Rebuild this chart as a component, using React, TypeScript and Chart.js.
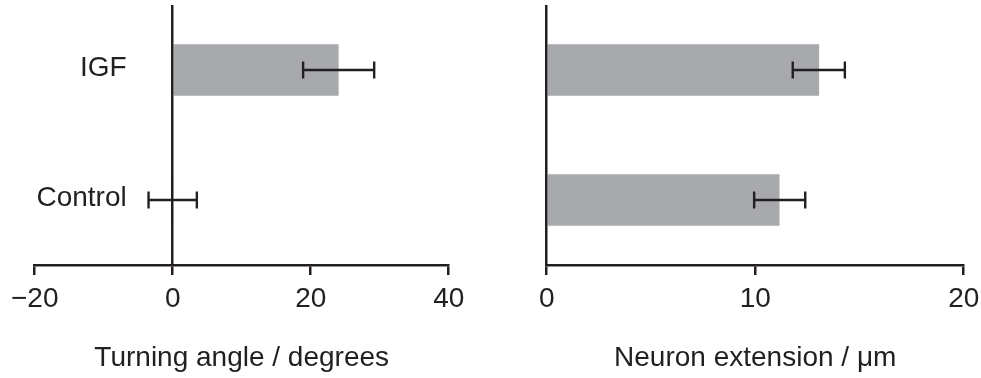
import React, { useEffect, useRef } from 'react';
import { Chart, registerables } from 'chart.js';

Chart.register(...registerables);

const categories = ['IGF', 'Control'];

const turningMean = [24.0, 0];
const turningLow = [18.9, -3.5];
const turningHigh = [29.2, 3.5];
const turningTicks = [-20, 0, 20, 40];

const extensionMean = [13.05, 11.15];
const extensionLow = [11.8, 9.95];
const extensionHigh = [14.3, 12.4];
const extensionTicks = [0, 10, 20];

const DARK = '#231f20';
const BAR = '#a7a9ac';
const FONT = '"Liberation Sans", Arial, Helvetica, sans-serif';

type PanelProps = {
  width: number;
  height: number;
  left: number;
  means: number[];
  lows: number[];
  highs: number[];
  ticks: number[];
  title: string;
  showLabels: boolean;
  pad: { left: number; right: number; top: number };
};

function Panel(props: PanelProps) {
  const ref = useRef<HTMLCanvasElement | null>(null);
  useEffect(() => {
    const canvas = ref.current;
    if (!canvas) return;
    const { means, lows, highs, ticks, title, showLabels, pad } = props;

    const errorBars = {
      id: 'errorBars',
      afterDatasetsDraw(chart: any) {
        const ctx = chart.ctx;
        const xs = chart.scales.x;
        const ys = chart.scales.y;
        ctx.save();
        ctx.strokeStyle = DARK;
        ctx.lineWidth = 2.4;
        lows.forEach((lo, i) => {
          const y = ys.getPixelForValue(i);
          const x1 = xs.getPixelForValue(lo);
          const x2 = xs.getPixelForValue(highs[i]);
          ctx.beginPath();
          ctx.moveTo(x1, y);
          ctx.lineTo(x2, y);
          ctx.moveTo(x1, y - 8.5);
          ctx.lineTo(x1, y + 8.5);
          ctx.moveTo(x2, y - 8.5);
          ctx.lineTo(x2, y + 8.5);
          ctx.stroke();
        });
        ctx.restore();
      },
    };

    const catLabels = {
      id: 'catLabels',
      afterDraw(chart: any) {
        if (!showLabels) return;
        const ctx = chart.ctx;
        const xs = chart.scales.x;
        const ys = chart.scales.y;
        ctx.save();
        ctx.fillStyle = DARK;
        ctx.font = `28px ${FONT}`;
        ctx.textAlign = 'right';
        ctx.textBaseline = 'middle';
        const x0 = xs.getPixelForValue(0);
        categories.forEach((c, i) => {
          const y = ys.getPixelForValue(i);
          ctx.fillText(c, x0 - 46, y - 2);
        });
        ctx.restore();
      },
    };

    const chart = new Chart(canvas, {
      type: 'bar',
      data: {
        labels: categories,
        datasets: [
          {
            data: means,
            backgroundColor: BAR,
            borderWidth: 0,
            barThickness: 51,
          },
        ],
      },
      options: {
        indexAxis: 'y',
        animation: false,
        responsive: false,
        events: [],
        layout: { padding: { left: pad.left, right: pad.right, top: pad.top, bottom: 0 } },
        plugins: { legend: { display: false }, tooltip: { enabled: false }, title: { display: false } },
        scales: {
          y: {
            type: 'category',
            display: false,
            offset: true,
          },
          x: {
            type: 'linear',
            position: 'bottom',
            min: ticks[0],
            max: ticks[ticks.length - 1],
            z: 1,
            afterBuildTicks: (scale: any) => {
              scale.ticks = ticks.map((v) => ({ value: v }));
            },
            border: { display: true, color: DARK, width: 2.5, z: 1 },
            grid: {
              display: true,
              z: 1,
              drawTicks: true,
              tickLength: 10,
              lineWidth: 2.5,
              tickWidth: 2.5,
              tickColor: DARK,
              color: (ctx: any) => (ctx.tick && ctx.tick.value === 0 ? DARK : 'rgba(0,0,0,0)'),
            },
            ticks: {
              padding: 7,
              color: DARK,
              font: { family: FONT, size: 28 },
              maxRotation: 0,
              autoSkip: false,
              callback: (v: any) => {
                const n = Number(v);
                return n < 0 ? '\u2212' + Math.abs(n) : String(n);
              },
            },
            title: {
              display: true,
              text: title,
              color: DARK,
              font: { family: FONT, size: 28 },
              padding: { top: 18.6, bottom: 3.2 },
            },
          },
        },
      },
      plugins: [errorBars, catLabels],
    });
    return () => chart.destroy();
  }, []);
  return (
    <canvas
      ref={ref}
      width={props.width}
      height={props.height}
      style={{ position: 'absolute', left: props.left, top: 0, width: props.width, height: props.height }}
    />
  );
}

export default function App() {
  return (
    <div
      style={{
        position: 'fixed',
        left: 0,
        top: 0,
        width: 981,
        height: 378,
        overflow: 'hidden',
        background: '#ffffff',
      }}
    >
      <Panel
        width={490}
        height={378}
        left={0}
        means={turningMean}
        lows={turningLow}
        highs={turningHigh}
        ticks={turningTicks}
        title="Turning angle / degrees"
        showLabels={true}
        pad={{ left: 34.7, right: 41.3, top: 5 }}
      />
      <Panel
        width={500}
        height={378}
        left={490}
        means={extensionMean}
        lows={extensionLow}
        highs={extensionHigh}
        ticks={extensionTicks}
        title="Neuron extension / μm"
        showLabels={false}
        pad={{ left: 56.7, right: 26.3, top: 5 }}
      />
    </div>
  );
}
